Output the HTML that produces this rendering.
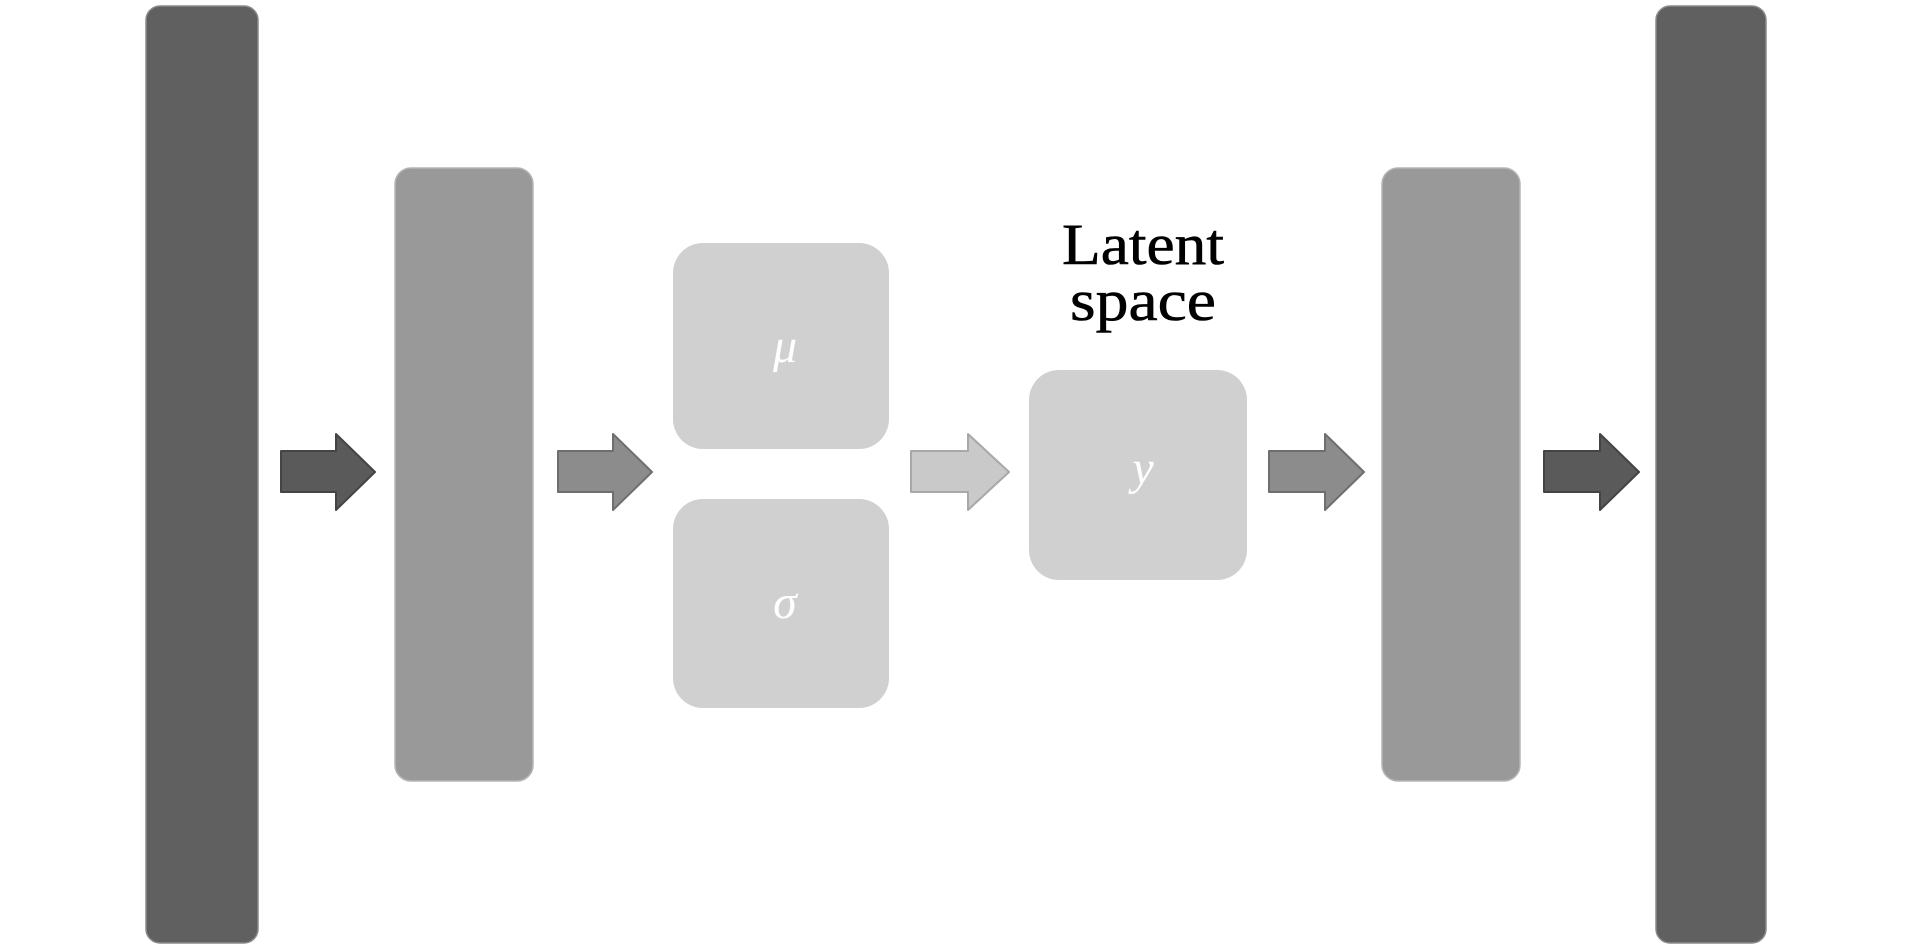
<!DOCTYPE html>
<html><head><meta charset="utf-8"><style>
html,body{margin:0;padding:0;background:#fff;width:1913px;height:945px;overflow:hidden}
</style></head><body>
<svg width="1913" height="945" viewBox="0 0 1913 945" xmlns="http://www.w3.org/2000/svg">
<rect x="146" y="6" width="112" height="937" rx="14" fill="#606060" stroke="#8a8a8a" stroke-width="1.5"/>
<rect x="1656" y="6" width="110" height="937" rx="14" fill="#606060" stroke="#8a8a8a" stroke-width="1.5"/>
<rect x="395" y="168" width="138" height="613" rx="16" fill="#999999" stroke="#b5b5b5" stroke-width="1.5"/>
<rect x="1382" y="168" width="138" height="613" rx="16" fill="#999999" stroke="#b5b5b5" stroke-width="1.5"/>
<rect x="673" y="243" width="216" height="206" rx="30" fill="#d0d0d0"/>
<rect x="673" y="499" width="216" height="209" rx="30" fill="#d0d0d0"/>
<rect x="1029" y="370" width="218" height="210" rx="30" fill="#d0d0d0"/>
<g stroke-width="2" stroke-linejoin="round">
<polygon points="281,451 336,451 336,434 375,472 336,510 336,492 281,492" fill="#5a5a5a" stroke="#444"/>
<polygon points="558,451 613,451 613,434 652,472 613,510 613,492 558,492" fill="#8c8c8c" stroke="#6e6e6e"/>
<polygon points="911,451 968,451 968,434 1009,472 968,510 968,492 911,492" fill="#c9c9c9" stroke="#a8a8a8"/>
<polygon points="1269,451 1325,451 1325,434 1364,472 1325,510 1325,492 1269,492" fill="#8c8c8c" stroke="#6e6e6e"/>
<polygon points="1544,451 1600,451 1600,434 1639,472 1600,510 1600,492 1544,492" fill="#5a5a5a" stroke="#444"/>
</g>
<g font-family="Liberation Serif, serif" text-anchor="middle">
<text x="1143" y="264" font-size="58" fill="#000" stroke="#000" stroke-width="0.6" textLength="162" lengthAdjust="spacingAndGlyphs">Latent</text>
<text x="1143" y="320" font-size="58" fill="#000" stroke="#000" stroke-width="0.6" textLength="146" lengthAdjust="spacingAndGlyphs">space</text>
<text x="785" y="362" font-size="48" font-style="italic" fill="#fff">μ</text>
<text x="785" y="618" font-size="48" font-style="italic" fill="#fff">σ</text>
<text x="1143" y="484" font-size="48" font-style="italic" fill="#fff">y</text>
</g>
</svg>
</body></html>
